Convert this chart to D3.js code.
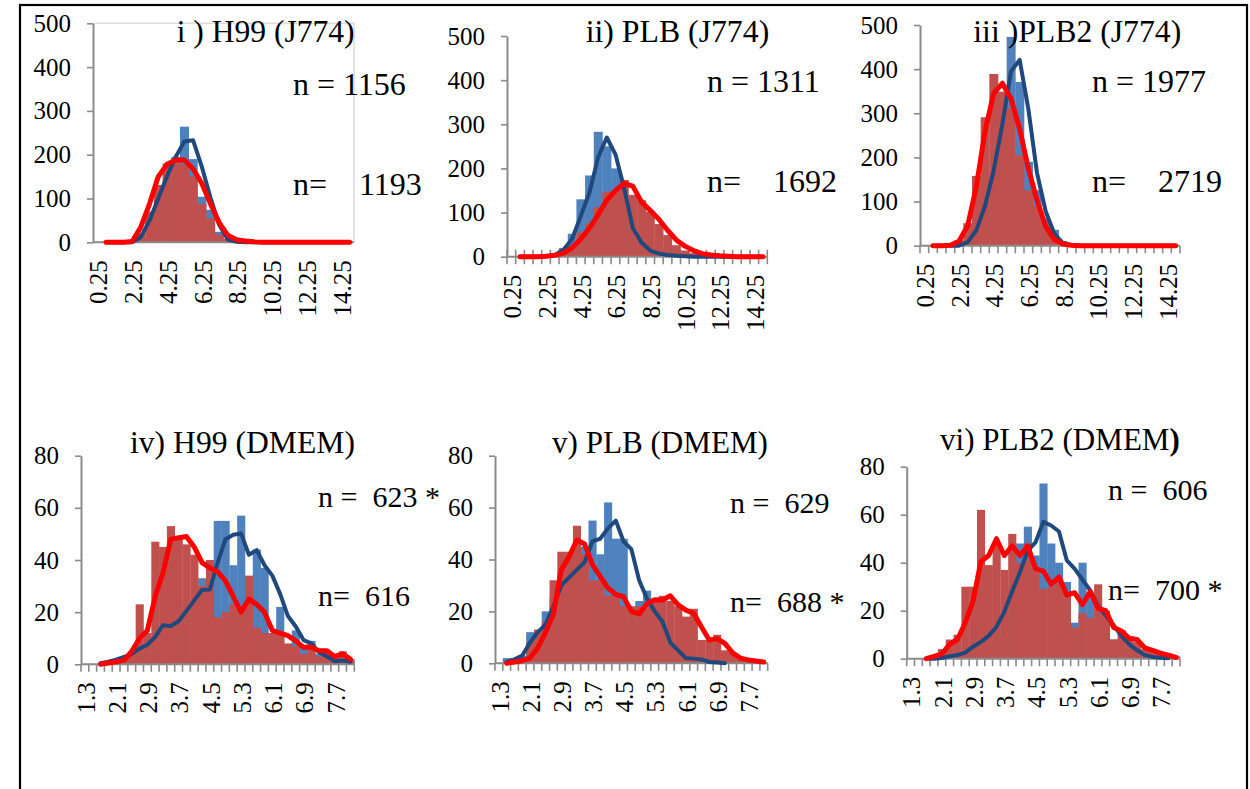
<!DOCTYPE html>
<html><head><meta charset="utf-8">
<script src="https://cdn.jsdelivr.net/npm/d3@7"></script>
<style>
html,body{margin:0;padding:0;background:#fff;}
text{font-family:"Liberation Serif","Times New Roman",serif;white-space:pre;fill:#000;}
</style></head><body>
<svg id="chart" width="1250" height="789"></svg>
<script>
// ---------- DATA ----------
const catsTop = ["0.25","0.75","1.25","1.75","2.25","2.75","3.25","3.75","4.25","4.75","5.25","5.75","6.25","6.75","7.25","7.75","8.25","8.75","9.25","9.75","10.25","10.75","11.25","11.75","12.25","12.75","13.25","13.75","14.25","14.75"];
const catsBottom = ["1.3","1.5","1.7","1.9","2.1","2.3","2.5","2.7","2.9","3.1","3.3","3.5","3.7","3.9","4.1","4.3","4.5","4.7","4.9","5.1","5.3","5.5","5.7","5.9","6.1","6.3","6.5","6.7","6.9","7.1","7.3","7.5","7.7","7.9","8.1"];
const xLabelsTop = ["0.25","2.25","4.25","6.25","8.25","10.25","12.25","14.25"];
const xLabelsBottom = ["1.3","2.1","2.9","3.7","4.5","5.3","6.1","6.9","7.7"];
const yTicksTop = [0,100,200,300,400,500];
const yTicksBottom = [0,20,40,60,80];

const titles = ["i ) H99 (J774)","ii) PLB (J774)","iii )PLB2 (J774)","iv) H99 (DMEM)","v) PLB (DMEM)","vi) PLB2 (DMEM"];
const nLabelsBlue = ["n = 1156","n = 1311","n = 1977","n =  623 *","n =  629","n =  606"];
const nLabelsRed  = ["n=    1193","n=    1692","n=    2719","n=  616","n=  688 *","n=  700 *"];

// panel i
const blueBars_i = [0,0,0,0,0,2,10,35,140,195,264,190,104,74,24,5,1,0,0,0,0,0,0,0,0,0,0,0,0,0];
const redBars_i  = [0,0,0,0,3,21,70,131,180,185,178,150,88,55,18,8,3,1,0,0,0,0,0,0,0,0,0,0,0,0];
const blueLine_i = [null,0,0,0,0,12,50,100,150,195,230,233,173,102,40,6,1,0,0,0,0,0,0,0,0,0,0,0,0,0];
const redLine_i  = [null,0,0,0,2,35,88,150,178,188,188,168,135,88,45,16,6,3,1,0,0,0,0,0,0,0,0,0,0,0];
// panel ii
const blueBars_ii = [0,0,0,0,2,8,20,52,130,184,283,250,200,110,45,20,8,4,2,0,0,0,0,0,0,0,0,0,0,0];
const redBars_ii  = [0,0,0,0,0,2,8,22,55,75,112,147,150,174,140,128,102,74,49,26,14,8,4,2,1,0,0,0,0,0];
const blueLine_ii = [null,0,0,0,1,4,15,40,92,145,225,270,232,155,65,32,14,7,4,2,1,0,0,0,0,0,0,0,0,0];
const redLine_ii  = [null,0,0,0,1,3,8,20,40,65,95,128,150,166,160,124,105,85,60,38,24,14,7,4,2,1,0,0,0,0];
// panel iii
const blueBars_iii = [0,0,0,0,0,5,20,60,160,330,473,371,190,126,62,36,10,4,1,0,0,0,0,0,0,0,0,0,0,0];
const redBars_iii  = [0,0,0,2,13,51,158,291,389,349,312,205,125,90,50,25,8,3,1,0,0,0,0,0,0,0,0,0,0,0];
const blueLine_iii = [null,0,0,0,0,8,35,90,170,275,395,421,310,165,78,27,6,1,0,0,0,0,0,0,0,0,0,0,0,0];
const redLine_iii  = [null,0,0,1,10,45,134,259,345,368,333,265,175,103,44,14,4,1,0,0,0,0,0,0,0,0,0,0,0,0];
// panel iv
const blueBars_iv = [0,0,0,0,1,3,3,5,8,10,13,15,18,22,25,33,28,55,55,38,57,30,44,37,10,22,6,13,7,9,4,3,1,2,1];
const redBars_iv  = [0,0,0,0,1,2,5,23,12,47,45,53,49,46,42,30,40,18,20,23,20,34,14,12,12,12,8,7,4,8,3,5,3,5,2];
const blueLine_iv = [null,null,0.4,1,1.8,2.8,4,6,7.5,10.5,15,14.7,16.5,20.5,24.5,28.5,28.7,39,48,49.7,50.2,42,43.8,38,34,27,18.5,14.5,9.3,8,4.5,3,1.2,1.5,1];
const redLine_iv  = [null,null,0,0.5,1,1.5,5,10,13,26,35,48,48.5,49,45,39,37,35.5,32,26,20,25,23,20,13,12,11,9,6.5,6.5,5.2,5.2,3,4,2];
// panel v
const blueBars_v = [0,2,2,3,12,10,20,25,35,38,40,45,55,42,62,48,48,16,24,28,20,12,8,4,2,1,1,0,0,0,0,0,0,0,0];
const redBars_v  = [0,0,1,2,8,13,16,32,43,43,53,42,32,32,26,26,22,22,22,22,25,26,24,22,18,21,9,9,11,5,4,2,1,1,0];
const blueLine_v = [null,0.5,1.5,3,8,12,15,22,30,33,36,39,47,48,52,55,47,44,32,25,20,16,8,5,2,1.8,1.5,0.5,0.3,0,null,null,null,null,null];
const redLine_v  = [null,0,0.5,1,2,6,12,19,36,41,47.5,46,38,33.5,29,26.5,25.7,20,19,23,24.5,24.4,26,22.5,20.5,19.3,14,9,9.5,7.7,4,2,1.3,0.9,0.5];
// panel vi
const blueBars_vi = [0,0,0,0,0,0,1,2,4,5,7,10,18,30,48,55,43,73,48,40,32,15,40,27,19,12,8,5,3,2,1,1,0,0,0];
const redBars_vi  = [0,0,0,1,4,8,10,30,30,62,39,48,37,52,40,48,38,29,30,33,27,13,19,17,31,20,8,12,9,7,4,3,2,2,1];
const blueLine_vi = [null,null,0,0,0.3,1,1.5,2.5,5,7,9.5,13.3,19.5,28,36,45,48.5,57,55.5,53,41,37.5,33,28.5,22,18,14,9.5,6,3.5,1.5,0.7,0.4,0.2,null];
const redLine_vi  = [null,null,0,1,2,6,8,15,24,40.5,43,50,43,47,43,47,37.5,36.5,31,34,26.5,27.5,22.5,28,21,20,13,11.5,8.5,8,4.5,3.5,2.3,1.5,0.5];

// ---------- LAYOUT ----------
const layout = [
 {x0:93,   x1:354,   y0:242.3, yTop:23.3,  yMax:500, top:true,  xt:"none",  border:true,
  tx:176.7, ty:42.3, tw:178, n1:[293,95],    n2:[293,195],   nfs:32},
 {x0:507,  x1:767.3, y0:256.7, yTop:36,    yMax:500, top:true,  xt:"cross",
  tx:585.7, ty:41.7, tw:183.6, n1:[707,91.7], n2:[707,191.7], nfs:32},
 {x0:920,  x1:1180,  y0:245.7, yTop:25,    yMax:500, top:true,  xt:"out",
  tx:973.3, ty:41.7, tw:208, n1:[1092,91.7], n2:[1092,191.7], nfs:32},
 {x0:81,   x1:354.3, y0:664.3, yTop:455.7, yMax:80, top:false, xt:"out",
  tx:130, ty:453, tw:225, n1:[318,506.7], n2:[318,605.7], nfs:30},
 {x0:495,  x1:767.7, y0:663.3, yTop:455.7, yMax:80, top:false, xt:"out",
  tx:552, ty:453, tw:216, n1:[730,512.7], n2:[730,611.7], nfs:30},
 {x0:906.7,x1:1180,  y0:658.7, yTop:466.7, yMax:80, top:false, xt:"out",
  tx:940, ty:450, tw:240, n1:[1108,500], n2:[1108,600], nfs:30, boldParen:true}
];
const series = [
 [blueBars_i, redBars_i, blueLine_i, redLine_i],
 [blueBars_ii, redBars_ii, blueLine_ii, redLine_ii],
 [blueBars_iii, redBars_iii, blueLine_iii, redLine_iii],
 [blueBars_iv, redBars_iv, blueLine_iv, redLine_iv],
 [blueBars_v, redBars_v, blueLine_v, redLine_v],
 [blueBars_vi, redBars_vi, blueLine_vi, redLine_vi]
];

const AXIS = "#8a8a8a", BLUE = "#4F81BD", RED = "#C0504D", BLUE_L = "#1F497D", RED_L = "#FF0000";
const FS_TICK = 25, FS_TITLE = 31;
const svg = d3.select("#chart");
svg.append("rect").attr("x",0).attr("y",0).attr("width",1250).attr("height",789).attr("fill","#fff");
svg.append("rect").attr("x",20).attr("y",5).attr("width",1227).attr("height",820)
   .attr("fill","none").attr("stroke","#000").attr("stroke-width",2.2);

layout.forEach((L, i) => {
  const [bb, rb, bl, rl] = series[i];
  const cats = L.top ? catsTop : catsBottom;
  const xLabels = L.top ? xLabelsTop : xLabelsBottom;
  const yTicks = L.top ? yTicksTop : yTicksBottom;
  const x = d3.scaleBand().domain(cats).range([L.x0, L.x1]).padding(0);
  const y = d3.scaleLinear().domain([0, L.yMax]).range([L.y0, L.yTop]);
  const g = svg.append("g");
  const bw = x.bandwidth();

  if (L.border) {
    g.append("path").attr("d", `M${L.x0},${L.yTop}H${L.x1}V${L.y0}`)
      .attr("fill","none").attr("stroke","#dcdcdc").attr("stroke-width",1.5);
  }
  // x tick marks (category boundaries)
  if (L.xt !== "none") {
    const bounds = cats.map(c => x(c)).concat([L.x1]);
    const yA = L.xt === "cross" ? L.y0 - 7 : L.y0;
    const yB = L.y0 + 7.5;
    g.selectAll(".xt").data(bounds).join("line")
      .attr("x1", d => d).attr("x2", d => d).attr("y1", yA).attr("y2", yB)
      .attr("stroke", AXIS).attr("stroke-width", 1.6);
  }
  // bars
  const gb = g.append("g");
  gb.selectAll(".bb").data(cats).join("rect")
    .attr("x", c => x(c)).attr("width", bw + 0.3)
    .attr("y", (c, k) => y(bb[k])).attr("height", (c, k) => L.y0 - y(bb[k]))
    .attr("fill", BLUE);
  gb.selectAll(".rb").data(cats).join("rect")
    .attr("x", c => x(c)).attr("width", bw + 0.3)
    .attr("y", (c, k) => y(rb[k])).attr("height", (c, k) => L.y0 - y(rb[k]))
    .attr("fill", RED);

  // y axis
  const ya = g.append("g").attr("transform", `translate(${L.x0},0)`)
    .call(d3.axisLeft(y).tickValues(yTicks).tickSize(6).tickSizeOuter(0).tickPadding(16).tickFormat(d3.format("d")));
  ya.select(".domain").attr("stroke", AXIS).attr("stroke-width", 2);
  ya.selectAll(".tick line").attr("stroke", AXIS).attr("stroke-width", 1.6);
  ya.selectAll(".tick text").attr("font-family", '"Liberation Serif","Times New Roman",serif')
    .attr("font-size", FS_TICK).attr("fill", "#000");

  // x axis line
  g.append("line").attr("x1", L.x0).attr("x2", L.x1).attr("y1", L.y0).attr("y2", L.y0)
    .attr("stroke", AXIS).attr("stroke-width", 2);

  // x tick labels
  g.selectAll(".xl").data(xLabels).join("text")
    .attr("transform", c => `translate(${x(c) + bw/2 + 1},${L.y0 + 18}) rotate(-90)`)
    .attr("text-anchor", "end").attr("dy", "0.35em")
    .attr("font-size", FS_TICK).text(c => c);

  // lines
  const mk = arr => d3.line().defined(d => d.v != null)
    .x(d => x(d.c) + bw/2).y(d => y(d.v))(cats.map((c, k) => ({c, v: arr[k]})));
  g.append("path").attr("d", mk(bl)).attr("fill","none").attr("stroke", BLUE_L)
    .attr("stroke-width", 4).attr("stroke-linejoin","round").attr("stroke-linecap","round");
  g.append("path").attr("d", mk(rl)).attr("fill","none").attr("stroke", RED_L)
    .attr("stroke-width", 5).attr("stroke-linejoin","round").attr("stroke-linecap","round");

  // title
  const t = g.append("text").attr("font-size", FS_TITLE).text(titles[i]);
  if (L.boldParen) t.append("tspan").attr("font-weight","bold").text(")");
  const w0 = t.node().getComputedTextLength();
  t.attr("transform", `translate(${L.tx},${L.ty}) scale(${L.tw / w0},1)`);

  // n labels
  g.append("text").attr("x", L.n1[0]).attr("y", L.n1[1]).attr("font-size", L.nfs).text(nLabelsBlue[i]);
  g.append("text").attr("x", L.n2[0]).attr("y", L.n2[1]).attr("font-size", L.nfs).text(nLabelsRed[i]);
});
</script>
</body></html>
